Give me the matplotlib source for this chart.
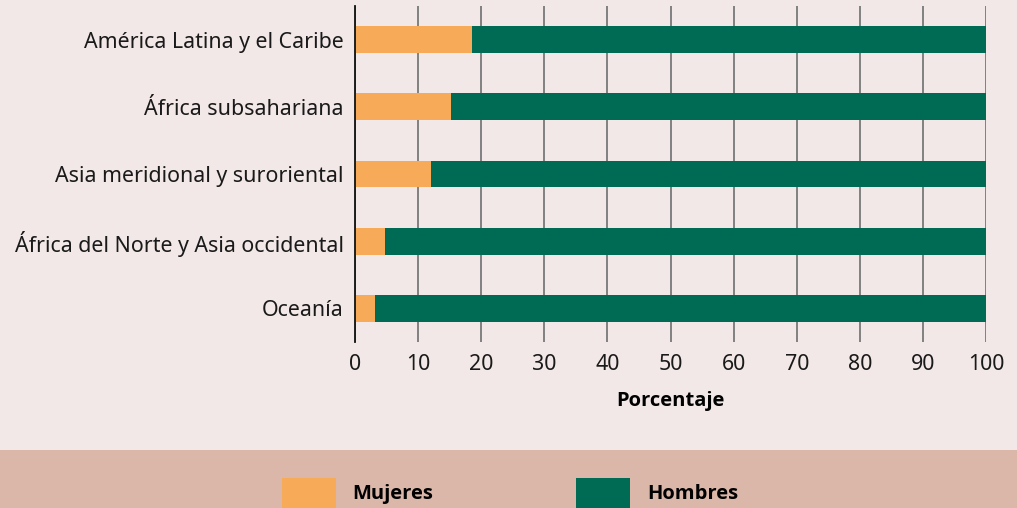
import matplotlib.pyplot as plt
import matplotlib.patches as mpatches
import numpy as np

# Data (percent of total), top to bottom as in the chart
regiones = ['América Latina y el Caribe', 'África subsahariana',
            'Asia meridional y suroriental', 'África del Norte y Asia occidental',
            'Oceanía']
mujeres = [18.6, 15.2, 12.0, 4.7, 3.2]
hombres = [100 - m for m in mujeres]
ticks = [0, 10, 20, 30, 40, 50, 60, 70, 80, 90, 100]

bg = '#f2e8e7'
band = '#dbb7a9'
c_muj = '#f7ab59'
c_hom = '#006b54'

plt.rcParams['font.family'] = ['Noto Sans', 'DejaVu Sans']
fs = 15.4
bold_font = {'family': 'Open Sans', 'size': 14.5, 'weight': 'bold'}

fig = plt.figure(figsize=(10.17, 5.08), dpi=100, facecolor=bg)

# Legend band at the bottom
fig.patches.append(mpatches.Rectangle((0, 0), 1, 58 / 508, transform=fig.transFigure,
                                      facecolor=band, edgecolor='none', zorder=0))

ax = fig.add_axes([355 / 1017, 1 - 342 / 508, 631 / 1017, 336 / 508])
ax.set_facecolor(bg)

y = np.arange(len(regiones))
b1 = ax.barh(y, mujeres, height=0.4, color=c_muj, label='Mujeres', zorder=3)
b2 = ax.barh(y, hombres, left=mujeres, height=0.4, color=c_hom, label='Hombres', zorder=3)

ax.set_xlim(0, 100)
ax.set_ylim(len(regiones) - 0.5, -0.5)
ax.set_yticks(y)
ax.set_yticklabels(regiones, fontsize=fs, color='#1a1a1a')
ax.set_xticks(ticks)
ax.set_xticklabels([str(t) for t in ticks], fontsize=fs, color='#1a1a1a')
ax.tick_params(axis='both', length=0)
ax.tick_params(axis='x', pad=9)
ax.tick_params(axis='y', pad=8)

ax.grid(axis='x', color='#6f6f6f', linewidth=1.2, zorder=1)
for s in ['top', 'right', 'bottom']:
    ax.spines[s].set_visible(False)
ax.spines['left'].set_color('#111111')
ax.spines['left'].set_linewidth(1.3)
ax.spines['left'].set_zorder(4)

ax.set_xlabel('Porcentaje', fontdict=bold_font, labelpad=11)

leg = fig.legend(handles=[b1, b2], loc='center', bbox_to_anchor=(510 / 1017, 15 / 508),
                 ncol=2, frameon=False, prop=bold_font,
                 handlelength=2.68, handleheight=1.93, handletextpad=0.84,
                 columnspacing=7.1)

fig.savefig('out.png', dpi=100, facecolor=bg)
